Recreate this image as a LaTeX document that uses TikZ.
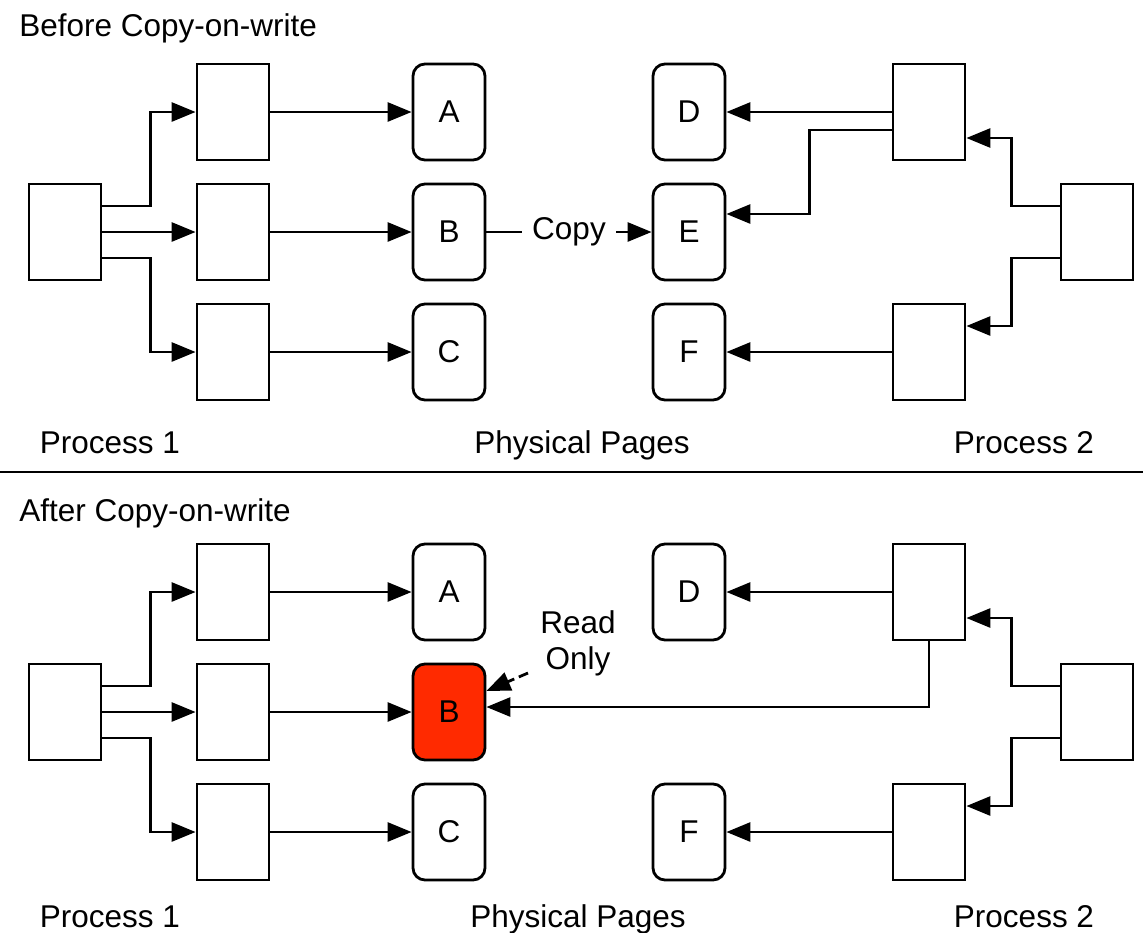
\documentclass[tikz,border=0pt]{standalone}
\usepackage{fontspec}
\setmainfont{Liberation Sans}
\usetikzlibrary{arrows.meta}

\definecolor{cowred}{RGB}{255,42,0}

\begin{document}
\begin{tikzpicture}[x=1pt, y=-1pt, line width=2.8pt,
            font=\fontsize{31.5}{36}\selectfont,
            tbl/.style={draw, minimum width=72pt, minimum height=96pt, inner sep=0pt},
            page/.style={tbl, rounded corners=12pt},
            caption/.style={anchor=base, inner sep=0pt},
            link/.style={-{Triangle[length=24pt, width=19pt]}}]
            \useasboundingbox (0,0) rectangle (1143,932);

            % ---------- before copy-on-write ----------
            \node[caption, anchor=base west] (titleb) at (18,36) {Before Copy-on-write};
            \node[tbl] (p1)  at ( 65,232) {};
            \node[tbl] (p1a) at (233,112) {};
            \node[tbl] (p1b) at (233,232) {};
            \node[tbl] (p1c) at (233,352) {};
            \node[page] (pA) at (449,112) {A};
            \node[page] (pB) at (449,232) {B};
            \node[page] (pC) at (449,352) {C};
            \node[page] (pD) at (689,112) {D};
            \node[page] (pE) at (689,232) {E};
            \node[page] (pF) at (689,352) {F};
            \node[tbl] (p2a) at (929,112) {};
            \node[tbl] (p2c) at (929,352) {};
            \node[tbl] (p2)  at (1097,232) {};

            % process 1 tables
            \draw[link] ([yshift=26pt]p1.east) -- ++(48,0) |- (p1a.west);
            \draw[link] (p1.east) -- (p1b.west);
            \draw[link] ([yshift=-26pt]p1.east) -- ++(48,0) |- (p1c.west);
            \draw[link] (p1a) -- (pA);
            \draw[link] (p1b) -- (pB);
            \draw[link] (p1c) -- (pC);

            % process 2 tables
            \draw[link] ([yshift=26pt]p2.west) -- ++(-48,0) |- ([yshift=-26pt]p2a.east);
            \draw[link] ([yshift=-26pt]p2.west) -- ++(-48,0) |- ([yshift=26pt]p2c.east);
            \draw[link] (p2a) -- (pD);
            \draw[link] ([yshift=-18pt]p2a.west) -- ++(-82,0) |- ([yshift=18pt]pE.east);
            \draw[link] (p2c) -- (pF);

            % copy of page B
            \draw[link] (pB) -- node[fill=white, inner sep=10pt] (copy) {Copy} (pE);

            \node[caption] (proc1b) at (110,453) {Process 1};
            \node[caption] (physb)  at (582,453) {Physical Pages};
            \node[caption] (proc2b) at (1024,453) {Process 2};

            \draw (0,472) -- (1143,472);

            % ---------- after copy-on-write ----------
            \node[caption, anchor=base west] (titlea) at (18,521) {After Copy-on-write};
            \node[tbl] (q1)  at ( 65,712) {};
            \node[tbl] (q1a) at (233,592) {};
            \node[tbl] (q1b) at (233,712) {};
            \node[tbl] (q1c) at (233,832) {};
            \node[page] (qA) at (449,592) {A};
            \node[page, fill=cowred] (qB) at (449,712) {B};
            \node[page] (qC) at (449,832) {C};
            \node[page] (qD) at (689,592) {D};
            \node[page] (qF) at (689,832) {F};
            \node[tbl] (q2a) at (929,592) {};
            \node[tbl] (q2c) at (929,832) {};
            \node[tbl] (q2)  at (1097,712) {};

            % process 1 tables
            \draw[link] ([yshift=26pt]q1.east) -- ++(48,0) |- (q1a.west);
            \draw[link] (q1.east) -- (q1b.west);
            \draw[link] ([yshift=-26pt]q1.east) -- ++(48,0) |- (q1c.west);
            \draw[link] (q1a) -- (qA);
            \draw[link] (q1b) -- (qB);
            \draw[link] (q1c) -- (qC);

            % process 2 tables
            \draw[link] ([yshift=26pt]q2.west) -- ++(-48,0) |- ([yshift=-26pt]q2a.east);
            \draw[link] ([yshift=-26pt]q2.west) -- ++(-48,0) |- ([yshift=26pt]q2c.east);
            \draw[link] (q2a) -- (qD);
            \draw[link] (q2a.south) |- ([yshift=5pt]qB.east);
            \draw[link] (q2c) -- (qF);

            % read only mark
            \node[align=center] (ro) at (578,643) {Read\\Only};
            \coordinate (rotail) at (528,673);
            \draw[link, dash pattern=on 10pt off 5pt] (rotail) -- ([yshift=21pt]qB.east);

            \node[caption] (proc1a) at (110,927) {Process 1};
            \node[caption] (physa)  at (578,927) {Physical Pages};
            \node[caption] (proc2a) at (1024,927) {Process 2};
        \end{tikzpicture}
\end{document}
